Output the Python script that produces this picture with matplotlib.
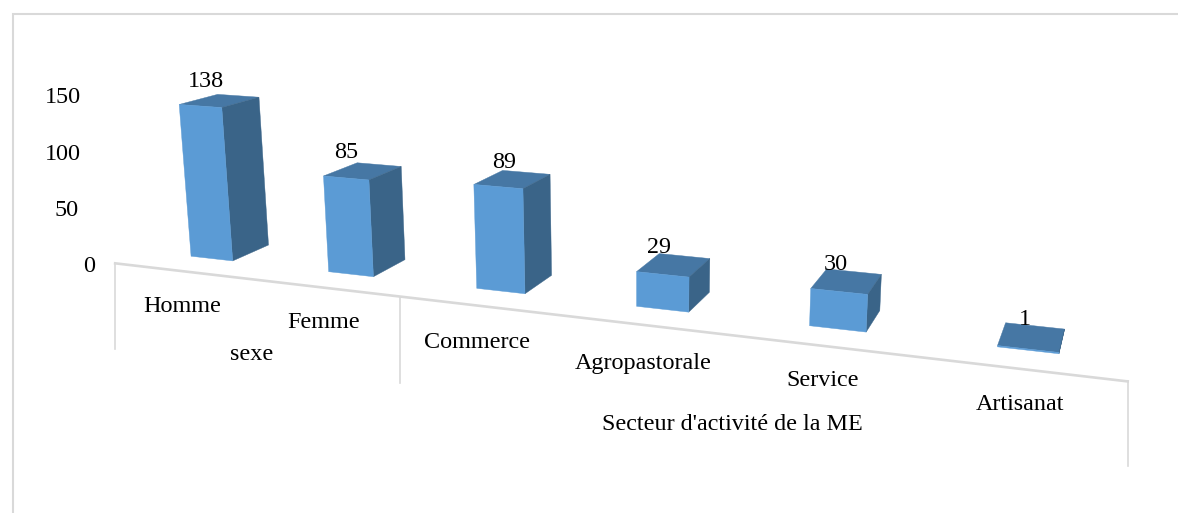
import numpy as np
import matplotlib
matplotlib.use("Agg")
import matplotlib.pyplot as plt

plt.rcParams['font.family'] = ['Liberation Serif', 'DejaVu Serif']

categories = ["Homme", "Femme", "Commerce", "Agropastorale", "Service", "Artisanat"]
values = [138, 85, 89, 29, 30, 1]
group_names = ["sexe", "Secteur d'activité de la ME"]
group_edges = [0, 2, 6]
y_ticks = [0, 50, 100, 150]

# Perspective scale: (category position, depth, value) -> image pixels
CAMERA = np.array([
    [124.4577, 45.33747, -0.118437, 145.8324],
    [5.780115, -6.095872, -1.105849, 251.1409],
    [-0.03495639, 0.03851306, -0.0001865077, 1.0],
])
BAR_WIDTH = 0.31
AXIS_DEPTH = -0.75

def project(x, depth, value):
    q = CAMERA @ np.array([x, depth, value, 1.0])
    return q[:2] / q[2]

def face(*corners):
    return list(zip(*[project(*c) for c in corners]))

# Layout of the text, in pixels
cat_label_xy = [(182, 307), (324, 323), (477, 342), (643, 363), (823, 380), (1020, 404)]
group_label_xy = [(252, 355), (732, 424)]
tick_label_x = [89, 66.5, 62.5, 62.5]
tick_zero_y, tick_px_per_unit = 266.5, 1.125
value_label_dx = [6, 0, 6, -4, -3, -3]
value_label_dy = [-25, -25, -24.5, -27, -27, -29]

C_FRONT, C_TOP, C_SIDE, C_LINE = '#5B9BD5', '#4677A4', '#3A6488', '#D9D9D9'
FS = 17.4

fig = plt.figure(figsize=(11.78, 5.13), dpi=100)
ax = fig.add_axes([0, 0, 1, 1])
ax.set_xlim(0, 1178)
ax.set_ylim(513, 0)
ax.axis('off')

# Chart frame
ax.plot([12.8, 12.8, 1178], [513, 13.5, 13.5], color=C_LINE, lw=1.5, solid_joinstyle='miter')

# Category axis with its group dividers
ax.plot(*face((group_edges[0], AXIS_DEPTH, 0), (group_edges[-1], AXIS_DEPTH, 0)), color=C_LINE, lw=1.9)
drop_px = [86, 86, 85]
for edge, drop in zip(group_edges, drop_px):
    x0, y0 = project(edge, AXIS_DEPTH, 0)
    ax.plot([x0, x0], [y0, y0 + drop], color=C_LINE, lw=1.2)

# Bars
for i, v in enumerate(values):
    l, r = i + .5 - BAR_WIDTH / 2, i + .5 + BAR_WIDTH / 2
    ax.fill(*face((l, 0, v), (r, 0, v), (r, 1, v), (l, 1, v)), color=C_TOP, lw=0.3)
    ax.fill(*face((r, 0, 0), (r, 0, v), (r, 1, v), (r, 1, 0)), color=C_SIDE, lw=0.3)
    ax.fill(*face((l, 0, 0), (r, 0, 0), (r, 0, v), (l, 0, v)), color=C_FRONT, lw=0.3)
    px, py = project(i + .5, 0, v)
    ax.text(px + value_label_dx[i], py + value_label_dy[i], str(v),
            ha='center', va='center', fontsize=FS, color='black')

for name, (x, y) in zip(categories, cat_label_xy):
    ax.text(x, y, name, ha='center', va='center', fontsize=FS, color='black')
for name, (x, y) in zip(group_names, group_label_xy):
    ax.text(x, y, name, ha='center', va='center', fontsize=FS, color='black')
for t, x in zip(y_ticks, tick_label_x):
    ax.text(x, tick_zero_y - t * tick_px_per_unit, str(t), ha='center', va='center',
            fontsize=FS, color='black')

fig.savefig('out.png', dpi=100)
